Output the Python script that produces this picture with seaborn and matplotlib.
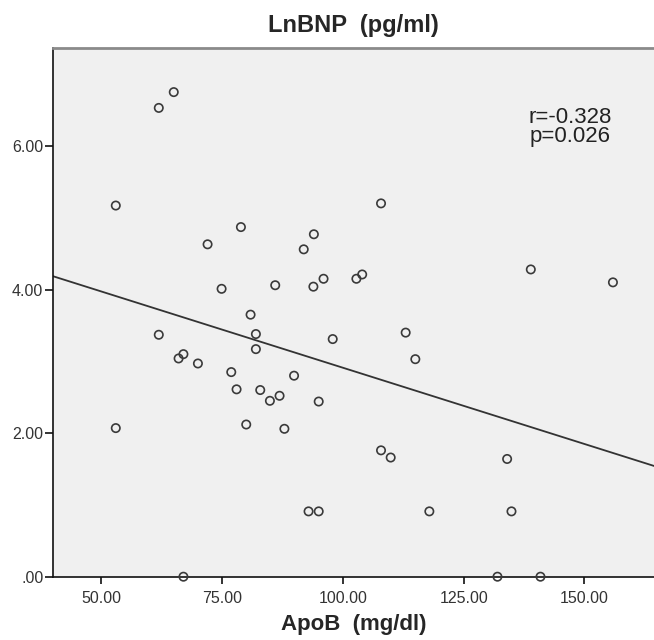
import numpy as np
import pandas as pd
import matplotlib
matplotlib.use("Agg")
import matplotlib.pyplot as plt
import seaborn as sns

# -----------------------------
# DATA
# -----------------------------
apob = [65.0, 61.9, 53.0, 78.9, 72.0, 94.0, 91.9, 74.9, 86.0, 93.9, 96.0, 80.9,
        107.9, 102.8, 104.0, 138.9, 155.9,
        61.9, 82.0, 82.0, 97.9, 66.0, 67.0, 70.0, 76.9, 89.9, 78.0, 82.9, 84.9,
        86.9, 95.0, 53.0, 80.0, 87.9, 92.9, 95.0, 67.0,
        113.0, 115.0, 107.9, 109.9, 134.0, 117.9, 134.9, 132.0, 140.9]
lnbnp = [6.75, 6.53, 5.17, 4.87, 4.63, 4.77, 4.56, 4.01, 4.06, 4.04, 4.15, 3.65,
         5.20, 4.15, 4.21, 4.28, 4.10,
         3.37, 3.38, 3.17, 3.31, 3.04, 3.10, 2.97, 2.85, 2.80, 2.61, 2.60, 2.45,
         2.52, 2.44, 2.07, 2.12, 2.06, 0.91, 0.91, 0.00,
         3.40, 3.03, 1.76, 1.66, 1.64, 0.91, 0.91, 0.00, 0.00]

x_ticks = [50, 75, 100, 125, 150]
x_tick_labels = ["50.00", "75.00", "100.00", "125.00", "150.00"]
y_ticks = [0, 2, 4, 6]
y_tick_labels = [".00", "2.00", "4.00", "6.00"]

stats_text = "r=-0.328\np=0.026"

df = pd.DataFrame({"ApoB": apob, "LnBNP": lnbnp})

# -----------------------------
# PLOT
# -----------------------------
sns.set_style("ticks")
plt.rcParams["font.family"] = ["Liberation Sans", "DejaVu Sans"]

fig = plt.figure(figsize=(6.54, 6.40), dpi=100)
ax = fig.add_axes([0.081, 0.0989, 0.919, 0.8256])
ax.set_facecolor("#f0f0f0")

XLIM = (40, 164.4)
YLIM = (0, 7.36)
ax.set_xlim(XLIM)
ax.set_ylim(YLIM)

sns.regplot(data=df, x="ApoB", y="LnBNP", scatter=False, ci=None,
            truncate=False, color="#333333", line_kws={"linewidth": 1.3}, ax=ax)

sns.scatterplot(data=df, x="ApoB", y="LnBNP", marker="o", s=36,
                facecolor="none", edgecolor="#3a3a3a", linewidth=1.2,
                clip_on=False, zorder=3, ax=ax)

ax.set_xlim(XLIM)
ax.set_ylim(YLIM)

ax.set_xticks(x_ticks)
ax.set_xticklabels(x_tick_labels)
ax.set_yticks(y_ticks)
ax.set_yticklabels(y_tick_labels)
ax.tick_params(axis="x", length=5, width=1.2, pad=5, labelsize=11.5,
               colors="#111111", labelcolor="#333333")
ax.tick_params(axis="y", length=6, width=1.2, pad=1, labelsize=11.5,
               colors="#111111", labelcolor="#333333")

for side in ["left", "bottom"]:
    ax.spines[side].set_color("#111111")
    ax.spines[side].set_linewidth(1.2)
ax.spines["top"].set_color("#8a8a8a")
ax.spines["top"].set_linewidth(2.0)
ax.spines["right"].set_visible(False)

ax.set_title("LnBNP  (pg/ml)", fontsize=17, fontweight="bold", pad=12)
ax.set_xlabel("ApoB  (mg/dl)", fontsize=16, fontweight="bold", labelpad=6)
ax.set_ylabel("")

ax.text(147, 6.26, stats_text, ha="center", va="center", fontsize=16,
        linespacing=0.9, color="#222222")

fig.savefig("out.png", dpi=100)
plt.close(fig)
